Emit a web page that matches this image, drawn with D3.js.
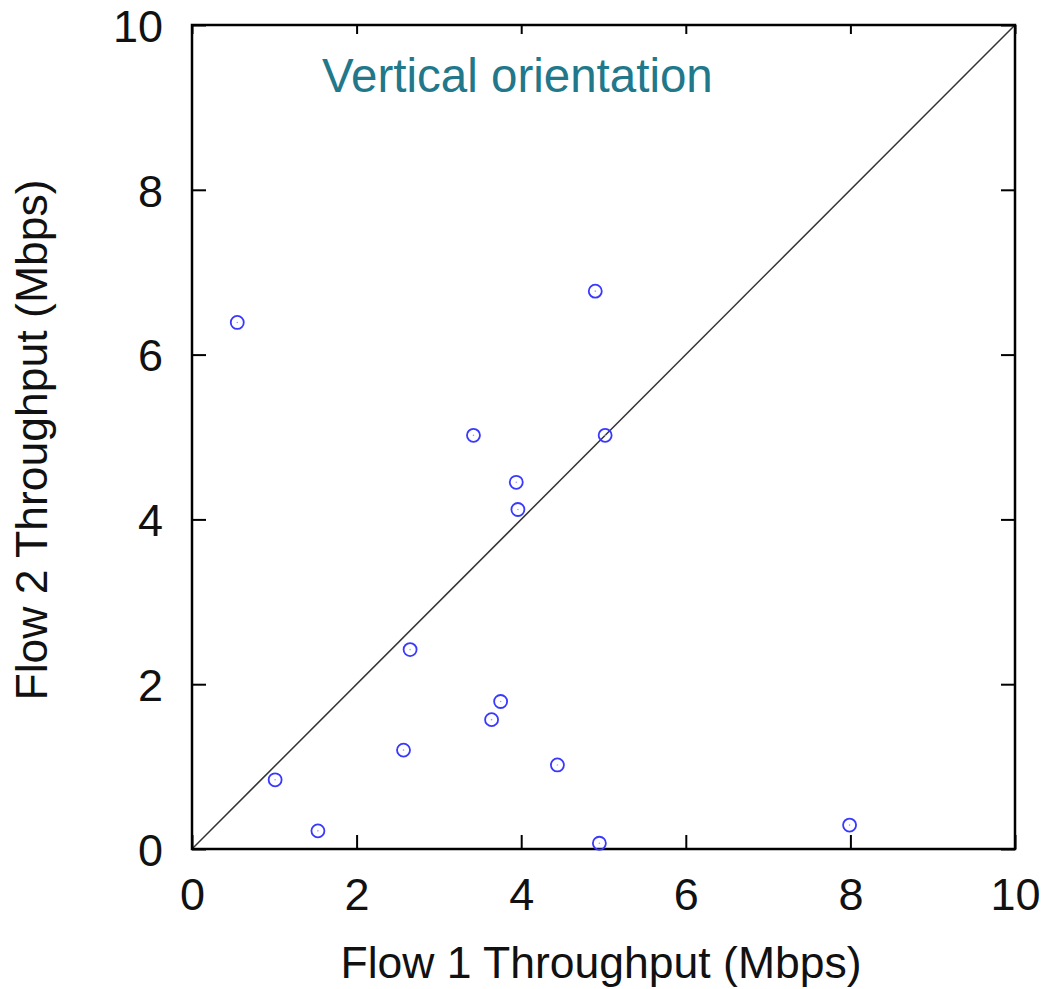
<!DOCTYPE html>
<html>
<head>
<meta charset="utf-8">
<script src="https://cdn.jsdelivr.net/npm/d3@7"></script>
<style>
  html, body { margin: 0; padding: 0; background: #fff; }
  svg { display: block; }
  text { font-family: "Liberation Sans", Arial, Helvetica, sans-serif; }
</style>
</head>
<body>
<svg id="chart" width="1048" height="989"></svg>
<script>
// ---- data ----
const flow1 = [0.55, 4.90, 3.42, 5.02, 3.94, 3.96, 2.65, 3.75, 3.64, 2.57, 4.44, 1.01, 1.53, 4.95, 7.99];
const flow2 = [6.39, 6.77, 5.02, 5.02, 4.45, 4.12, 2.42, 1.79, 1.57, 1.20, 1.02, 0.84, 0.22, 0.07, 0.29];
const xTicks = [0, 2, 4, 6, 8, 10];
const yTicks = [0, 2, 4, 6, 8, 10];
const diagonal = [0, 10];
const xLabel = "Flow 1 Throughput (Mbps)";
const yLabel = "Flow 2 Throughput (Mbps)";
const annotation = "Vertical orientation";

// ---- layout ----
const svg = d3.select("#chart");
const pLeft = 192, pRight = 1015, pTop = 25, pBottom = 849;

const x = d3.scaleLinear().domain([0, 10]).range([pLeft, pRight]);
const y = d3.scaleLinear().domain([0, 10]).range([pBottom, pTop]);

const tickFont = 45;
const labelFont = 44.5;

// diagonal line
svg.append("line")
  .attr("x1", x(diagonal[0])).attr("y1", y(diagonal[0]))
  .attr("x2", x(diagonal[1])).attr("y2", y(diagonal[1]))
  .attr("stroke", "#333").attr("stroke-width", 1.5);

// axes with inward ticks
const axB = svg.append("g").attr("transform", `translate(0,${pBottom})`)
  .call(d3.axisBottom(x).tickValues(xTicks).tickSize(-14).tickFormat(d3.format("d")));
const axL = svg.append("g").attr("transform", `translate(${pLeft},0)`)
  .call(d3.axisLeft(y).tickValues(yTicks).tickSize(-14).tickFormat(d3.format("d")));
const axT = svg.append("g").attr("transform", `translate(0,${pTop})`)
  .call(d3.axisTop(x).tickValues(xTicks).tickSize(-9).tickFormat(""));
const axR = svg.append("g").attr("transform", `translate(${pRight},0)`)
  .call(d3.axisRight(y).tickValues(yTicks).tickSize(-14).tickFormat(""));

[axB, axL, axT, axR].forEach(g => {
  g.select(".domain").remove();
  g.selectAll(".tick line").attr("stroke", "#000").attr("stroke-width", 2);
  g.selectAll(".tick text").attr("fill", "#111").style("font-size", tickFont + "px")
    .style("font-family", '"Liberation Sans", Arial, sans-serif');
});
axB.selectAll(".tick text").attr("dy", "0").attr("y", 61);
axL.selectAll(".tick text").attr("dy", "0.36em").attr("x", -29);

// frame
svg.append("rect")
  .attr("x", pLeft).attr("y", pTop)
  .attr("width", pRight - pLeft).attr("height", pBottom - pTop)
  .attr("fill", "none").attr("stroke", "#000").attr("stroke-width", 2.5);

// points
const pts = flow1.map((v, i) => ({ f1: v, f2: flow2[i] }));
const pg = svg.append("g");
pg.selectAll("circle.ring").data(pts).join("circle")
  .attr("class", "ring")
  .attr("cx", d => x(d.f1)).attr("cy", d => y(d.f2))
  .attr("r", 6.5)
  .attr("fill", "none").attr("stroke", "#3838ff").attr("stroke-width", 1.8);
pg.selectAll("circle.dot").data(pts).join("circle")
  .attr("class", "dot")
  .attr("cx", d => x(d.f1)).attr("cy", d => y(d.f2))
  .attr("r", 0.8)
  .attr("fill", "#9999ff");

// annotation
svg.append("text")
  .attr("x", 322).attr("y", 92)
  .attr("fill", "#21788a")
  .style("font-size", "47.5px")
  .text(annotation);

// axis labels
svg.append("text")
  .attr("x", 601).attr("y", 978)
  .attr("text-anchor", "middle").attr("fill", "#111")
  .style("font-size", labelFont + "px")
  .text(xLabel);

svg.append("text")
  .attr("transform", `translate(47,${(pTop + pBottom) / 2 + 3}) rotate(-90)`)
  .attr("text-anchor", "middle").attr("fill", "#111")
  .style("font-size", labelFont + "px")
  .text(yLabel);
</script>
</body>
</html>
